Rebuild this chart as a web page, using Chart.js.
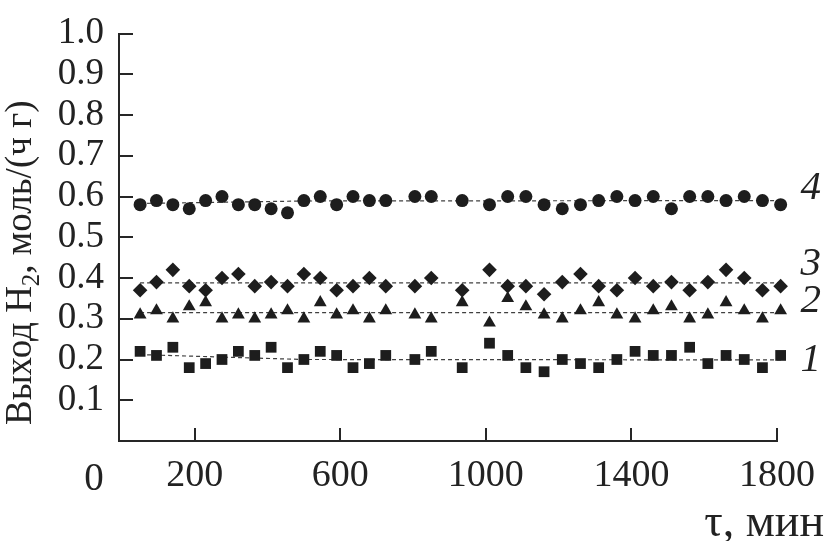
<!DOCTYPE html>
<html>
<head>
<meta charset="utf-8">
<script src="https://cdn.jsdelivr.net/npm/chart.js@4/dist/chart.umd.min.js"></script>
<style>
html,body{margin:0;padding:0;background:#fff;}
#wrap{width:827px;height:541px;position:relative;}
</style>
</head>
<body>
<div id="wrap"><canvas id="c" width="827" height="541"></canvas></div>
<script>
// ---- data ----
const times = [50, 95, 140, 185, 230, 275, 320, 365, 410, 455, 500, 545, 590, 635, 680, 725, 805, 850, 935,
               1010, 1060, 1110, 1160, 1210, 1260, 1310, 1360, 1410, 1460, 1510, 1560, 1610, 1660, 1710, 1760, 1810];
const series1 = [0.22,0.21,0.23,0.18,0.19,0.20,0.22,0.21,0.23,0.18,0.20,0.22,0.21,0.18,0.19,0.21,0.20,0.22,0.18,
                 0.24,0.21,0.18,0.17,0.20,0.19,0.18,0.20,0.22,0.21,0.21,0.23,0.19,0.21,0.20,0.18,0.21];
const series2 = [0.31,0.32,0.30,0.33,0.34,0.30,0.31,0.30,0.31,0.32,0.30,0.34,0.31,0.32,0.30,0.32,0.31,0.30,0.34,
                 0.29,0.35,0.33,0.31,0.30,0.32,0.34,0.31,0.30,0.32,0.33,0.30,0.31,0.34,0.32,0.30,0.32];
const series3 = [0.37,0.39,0.42,0.38,0.37,0.40,0.41,0.38,0.39,0.38,0.41,0.40,0.37,0.38,0.40,0.38,0.38,0.40,0.37,
                 0.42,0.38,0.38,0.36,0.39,0.41,0.38,0.37,0.40,0.38,0.39,0.37,0.39,0.42,0.40,0.37,0.38];
const series4 = [0.58,0.59,0.58,0.57,0.59,0.60,0.58,0.58,0.57,0.56,0.59,0.60,0.58,0.60,0.59,0.59,0.60,0.60,0.59,
                 0.58,0.60,0.60,0.58,0.57,0.58,0.59,0.60,0.59,0.60,0.57,0.60,0.60,0.59,0.60,0.59,0.58];
// dashed mean lines
const trendX  = [50, 500, 1815];
const trend1  = [0.212, 0.200, 0.199];
const trend2  = [0.315, 0.315, 0.315];
const trend3  = [0.388, 0.388, 0.388];
const trend4  = [0.583, 0.589, 0.590];
const seriesLabels = ['1', '2', '3', '4'];
const xTickValues = [200, 600, 1000, 1400, 1800];
const yTitle = ['Выход H', '2', ', моль/(ч г)'];
const xTitle = 'τ, мин';
const originLabel = '0';

// ---- styling ----
const INK = '#1d1d1d';
const AXIS = '#262626';
const SERIF = '"Liberation Serif", "Times New Roman", serif';

const pts = arr => arr.map((v, i) => ({x: times[i], y: v}));
const trendPts = arr => arr.map((v, i) => ({x: trendX[i], y: v}));

function trendDs(arr) {
  return {type: 'line', data: trendPts(arr), borderColor: '#404040', borderWidth: 1.2,
          borderDash: [4, 3], pointRadius: 0, fill: false, clip: false, order: 2};
}
function markDs(arr, style, r) {
  return {type: 'scatter', data: pts(arr), pointStyle: style, pointRadius: r, pointHoverRadius: r,
          backgroundColor: INK, borderWidth: 0, borderColor: INK, clip: false, order: 1};
}

const decor = {
  id: 'decor',
  afterDraw(chart) {
    const {ctx, chartArea: ca, scales: {x, y}} = chart;
    ctx.save();
    // inward tick marks
    ctx.strokeStyle = AXIS; ctx.lineWidth = 2;
    ctx.beginPath();
    x.ticks.forEach(t => {
      const px = Math.round(x.getPixelForValue(t.value));
      ctx.moveTo(px, ca.bottom); ctx.lineTo(px, ca.bottom - 13);
    });
    y.ticks.forEach(t => {
      if (t.value < 0.05) return;
      const py = Math.round(y.getPixelForValue(t.value));
      ctx.moveTo(ca.left, py); ctx.lineTo(ca.left + 14, py);
    });
    ctx.stroke();

    ctx.fillStyle = '#222';
    // origin label
    ctx.font = '39px ' + SERIF;
    ctx.textAlign = 'center'; ctx.textBaseline = 'alphabetic';
    ctx.fillText(originLabel, 94, 490);

    // x title
    ctx.textAlign = 'right';
    ctx.font = '46px ' + SERIF;
    ctx.fillText(xTitle, 824, 536);

    // y title (rotated, with subscript)
    ctx.save();
    ctx.translate(31, 425);
    ctx.rotate(-Math.PI / 2);
    ctx.textAlign = 'left';
    const big = '37px ' + SERIF, small = '25px ' + SERIF;
    ctx.font = big;
    ctx.fillText(yTitle[0], 0, 0);
    let w = ctx.measureText(yTitle[0]).width;
    ctx.font = small;
    ctx.fillText(yTitle[1], w, 8);
    w += ctx.measureText(yTitle[1]).width;
    ctx.font = big;
    ctx.fillText(yTitle[2], w, 0);
    ctx.restore();

    // series labels at line ends
    ctx.font = 'italic 41px ' + SERIF;
    ctx.textAlign = 'center'; ctx.textBaseline = 'middle';
    const ends = [trend1, trend2, trend3, trend4];
    const dy = [0, -11, -19, -12];
    seriesLabels.forEach((lab, i) => {
      const arr = ends[i];
      const py = y.getPixelForValue(arr[arr.length - 1]) + dy[i];
      const px = x.getPixelForValue(1893);
      ctx.fillText(lab, px, py);
    });
    ctx.restore();
  }
};

new Chart(document.getElementById('c'), {
  data: {
    datasets: [
      trendDs(trend1), trendDs(trend2), trendDs(trend3), trendDs(trend4),
      markDs(series1, 'rect', 7.6),
      markDs(series2, 'triangle', 7.4),
      markDs(series3, 'rectRot', 7.3),
      markDs(series4, 'circle', 6.5)
    ]
  },
  options: {
    responsive: false,
    devicePixelRatio: 1,
    animation: false,
    events: [],
    layout: {padding: {left: 0, top: 24, right: 47, bottom: 0}},
    plugins: {legend: {display: false}, tooltip: {enabled: false}, title: {display: false}},
    scales: {
      x: {
        type: 'linear', position: 'bottom', min: -8, max: 1800,
        afterBuildTicks: s => { s.ticks = xTickValues.map(v => ({value: v})); },
        afterFit: s => { s.height = 100; },
        grid: {display: false, drawTicks: false},
        border: {display: true, color: AXIS, width: 2},
        ticks: {autoSkip: false, maxRotation: 0, padding: 12, color: '#222',
                font: {family: SERIF, size: 38, lineHeight: 1.2},
                callback: v => String(v)}
      },
      y: {
        type: 'linear', min: 0, max: 1.0,
        afterFit: s => { s.width = 119; },
        grid: {display: false, drawTicks: false},
        border: {display: true, color: AXIS, width: 2},
        ticks: {stepSize: 0.1, padding: 15, color: '#222',
                font: {family: SERIF, size: 37, lineHeight: 1.0},
                callback: v => (v < 0.05 ? '' : Number(v).toFixed(1))}
      }
    }
  },
  plugins: [decor]
});
</script>
</body>
</html>
